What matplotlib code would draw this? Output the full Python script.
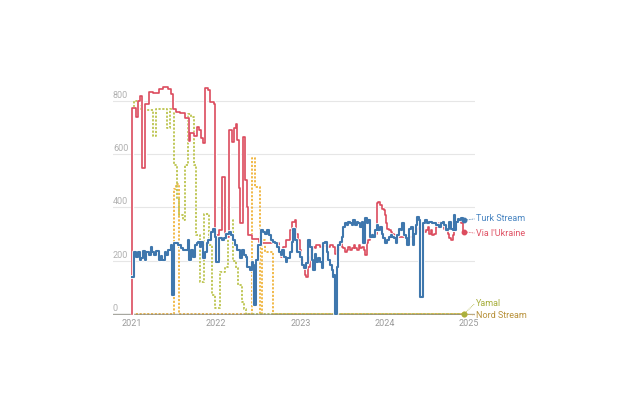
import matplotlib
matplotlib.use("Agg")
import matplotlib.pyplot as plt
import matplotlib.patheffects as pe
import matplotlib.transforms as mtransforms

plt.rcParams['font.family'] = ['Roboto', 'DejaVu Sans']

# --- DONNEES (dates en années décimales) ---
ukraine_dates = [2021.000, 2021.005, 2021.048, 2021.075, 2021.100, 2021.123, 2021.155, 2021.206, 2021.254,
                 2021.325, 2021.373, 2021.433, 2021.460, 2021.492, 2021.524, 2021.571, 2021.631, 2021.671,
                 2021.690, 2021.742, 2021.770, 2021.800, 2021.820, 2021.840, 2021.870, 2021.900, 2021.930,
                 2021.968, 2021.988, 2022.028, 2022.067, 2022.107, 2022.147, 2022.187, 2022.206, 2022.234,
                 2022.250, 2022.266, 2022.286, 2022.313, 2022.345, 2022.365, 2022.381, 2022.420, 2022.508,
                 2022.548, 2022.746, 2022.766, 2022.794, 2022.825, 2022.873, 2022.905, 2022.937, 2022.952,
                 2022.972, 2022.992, 2023.012, 2023.032, 2023.052, 2023.070, 2023.091, 2023.110, 2023.130,
                 2023.150, 2023.170, 2023.190, 2023.230, 2023.270, 2023.310, 2023.349, 2023.390, 2023.410,
                 2023.430, 2023.460, 2023.490, 2023.510, 2023.530, 2023.550, 2023.570, 2023.590, 2023.610,
                 2023.630, 2023.650, 2023.670, 2023.690, 2023.710, 2023.730, 2023.750, 2023.770, 2023.786,
                 2023.806, 2023.825, 2023.845, 2023.865, 2023.885, 2023.905, 2023.925, 2023.945, 2023.965,
                 2023.990, 2024.004, 2024.012, 2024.030, 2024.050, 2024.071, 2024.091, 2024.111, 2024.131,
                 2024.170, 2024.330, 2024.349, 2024.369, 2024.389, 2024.409, 2024.430, 2024.450, 2024.468,
                 2024.488, 2024.508, 2024.528, 2024.548, 2024.567, 2024.587, 2024.607, 2024.627, 2024.647,
                 2024.667, 2024.687, 2024.706, 2024.726, 2024.746, 2024.766, 2024.786, 2024.806, 2024.825,
                 2024.845, 2024.865, 2024.885, 2024.905, 2024.925, 2024.940]
ukraine_vals = [0, 775, 740, 800, 820, 547, 790, 834, 830,
                845, 852, 845, 825, 768, 760, 755, 737, 650,
                679, 670, 704, 690, 660, 641, 850, 840, 797,
                787, 295, 315, 515, 290, 690, 646, 700, 712,
                652, 475, 340, 665, 502, 400, 296, 280, 271,
                265, 234, 215, 252, 277, 315, 346, 352, 300,
                277, 240, 202, 177, 146, 140, 177, 215, 240,
                252, 246, 259, 252, 255, 252, 259, 250, 227,
                240, 265, 252, 246, 234, 240, 252, 240, 246,
                259, 246, 240, 259, 246, 252, 240, 221, 265,
                277, 290, 302, 290, 302, 415, 421, 409, 396,
                390, 371, 340, 321, 315, 309, 302, 296, 292,
                290, 302, 315, 309, 321, 327, 340, 327, 309,
                315, 327, 302, 315, 296, 302, 327, 327, 340,
                346, 334, 321, 315, 302, 284, 277, 296, 327,
                346, 355, 352, 340, 309, 309]

turk_dates = [2021.000, 2021.024, 2021.052, 2021.071, 2021.091, 2021.111, 2021.131, 2021.150, 2021.170,
              2021.198, 2021.222, 2021.238, 2021.262, 2021.290, 2021.317, 2021.341, 2021.357, 2021.389,
              2021.409, 2021.429, 2021.460, 2021.480, 2021.500, 2021.548, 2021.579, 2021.607, 2021.659,
              2021.679, 2021.706, 2021.726, 2021.746, 2021.766, 2021.786, 2021.806, 2021.825, 2021.845,
              2021.865, 2021.885, 2021.905, 2021.937, 2021.964, 2021.984, 2022.000, 2022.032, 2022.063,
              2022.091, 2022.119, 2022.151, 2022.171, 2022.198, 2022.222, 2022.250, 2022.278, 2022.310,
              2022.330, 2022.349, 2022.369, 2022.397, 2022.421, 2022.437, 2022.448, 2022.475, 2022.500,
              2022.528, 2022.556, 2022.579, 2022.607, 2022.627, 2022.647, 2022.675, 2022.698, 2022.726,
              2022.746, 2022.766, 2022.786, 2022.806, 2022.825, 2022.845, 2022.873, 2022.897, 2022.913,
              2022.937, 2022.964, 2022.992, 2023.020, 2023.040, 2023.063, 2023.091, 2023.111, 2023.131,
              2023.150, 2023.170, 2023.190, 2023.210, 2023.230, 2023.250, 2023.270, 2023.290, 2023.310,
              2023.330, 2023.349, 2023.369, 2023.381, 2023.397, 2023.409, 2023.437, 2023.448, 2023.468,
              2023.488, 2023.508, 2023.528, 2023.548, 2023.567, 2023.587, 2023.607, 2023.627, 2023.647,
              2023.667, 2023.687, 2023.706, 2023.726, 2023.746, 2023.766, 2023.786, 2023.806, 2023.825,
              2023.845, 2023.865, 2023.885, 2023.905, 2023.925, 2023.944, 2023.964, 2023.984, 2024.004,
              2024.032, 2024.052, 2024.071, 2024.091, 2024.111, 2024.131, 2024.150, 2024.170, 2024.190,
              2024.210, 2024.230, 2024.250, 2024.270, 2024.290, 2024.310, 2024.330, 2024.349, 2024.369,
              2024.389, 2024.409, 2024.421, 2024.452, 2024.480, 2024.500, 2024.528, 2024.567, 2024.607,
              2024.647, 2024.667, 2024.687, 2024.706, 2024.726, 2024.746, 2024.766, 2024.786, 2024.806,
              2024.817, 2024.833, 2024.849, 2024.865, 2024.885, 2024.905, 2024.925, 2024.940]
turk_vals = [140, 234, 215, 234, 202, 212, 237, 202, 234,
             222, 252, 234, 222, 237, 202, 217, 202, 234,
             222, 240, 259, 71, 265, 259, 246, 240, 277,
             202, 240, 215, 259, 265, 271, 252, 271, 209,
             234, 265, 277, 309, 321, 290, 196, 284, 277,
             284, 302, 309, 296, 277, 259, 240, 209, 240,
             222, 215, 177, 165, 196, 184, 34, 202, 259,
             315, 309, 302, 315, 296, 277, 271, 265, 252,
             234, 222, 240, 215, 196, 209, 234, 271, 321,
             277, 234, 215, 184, 171, 190, 277, 252, 202,
             165, 227, 196, 209, 196, 171, 265, 271, 234,
             202, 184, 165, 140, 146, 0, 177, 259, 271,
             290, 327, 340, 334, 346, 340, 334, 352, 334,
             346, 340, 327, 346, 265, 359, 340, 352, 290,
             296, 290, 315, 334, 315, 327, 302, 284, 265,
             277, 290, 296, 290, 284, 265, 296, 321, 315,
             340, 296, 284, 259, 321, 327, 259, 302, 334,
             365, 352, 65, 340, 352, 340, 346, 340, 334,
             327, 340, 346, 334, 315, 321, 346, 321, 315,
             371, 315, 346, 355, 352, 359, 352, 352]

yamal_dates = [2021.000, 2021.020, 2021.070, 2021.100, 2021.130, 2021.160, 2021.250, 2021.280, 2021.420,
               2021.450, 2021.500, 2021.530, 2021.560, 2021.600, 2021.630, 2021.660, 2021.700, 2021.740,
               2021.760, 2021.810, 2021.850, 2021.910, 2021.950, 2021.980, 2022.050, 2022.100, 2022.140,
               2022.160, 2022.200, 2022.230, 2022.260, 2022.300, 2022.330, 2022.350, 2024.940]
yamal_vals = [770, 800, 780, 765, 690, 765, 668, 768, 700,
              768, 560, 430, 371, 352, 560, 750, 740, 560,
              296, 121, 377, 259, 70, 21, 159, 175, 296,
              352, 200, 171, 110, 46, 20, 0, 0]

nord_dates = [2021.000, 2021.500, 2021.520, 2021.560, 2022.420, 2022.460, 2022.520, 2022.545, 2022.580,
              2022.670, 2024.940]
nord_vals = [0, 470, 490, 0, 584, 477, 0, 277, 234,
             0, 0]

year_ticks = [2021, 2022, 2023, 2024, 2025]
y_ticks = [0, 200, 400, 600, 800]

RED = '#dc4c5e'
BLUE = '#3f77ad'
OLIVE = '#bcc44e'
GOLD = '#f0b43c'

fig = plt.figure(figsize=(6.24, 4.16), dpi=100)
ax = fig.add_axes([0.181, 0.2433, 0.580, 0.5524])
ax.set_xlim(2020.774, 2025.07)
ax.set_ylim(-3, 860)

# grille horizontale + étiquettes juste au-dessus des lignes
lab_tr = mtransforms.blended_transform_factory(ax.transAxes, ax.transData)
for v in y_ticks:
    if v > 0:
        ax.axhline(v, color='#e6e6e6', lw=0.8, zorder=0)
    ax.text(0.0, v + 4, str(v), transform=lab_tr, fontsize=6.5, color='#b0b0b0', ha='left', va='bottom')

for yr in year_ticks:
    ax.text(yr, -20, str(yr), fontsize=6.5, color='#9a9a9a', ha='center', va='top')

halo = lambda w: [pe.Stroke(linewidth=w + 1.2, foreground='white'), pe.Normal()]

# séries en pointillés
ax.step(nord_dates, nord_vals, where='post', color=GOLD, lw=1.3, dashes=(1.2, 0.9), zorder=2, clip_on=False)
ax.step(yamal_dates, yamal_vals, where='post', color=OLIVE, lw=1.3, dashes=(1.2, 0.9), zorder=2, clip_on=False)

# ligne de base par-dessus (grise, légèrement transparente)
ax.axhline(0, color='#8a8a80', lw=1.0, alpha=0.75, zorder=2.5)

# séries pleines
ax.step(ukraine_dates, ukraine_vals, where='post', color=RED, lw=1.2, zorder=3, path_effects=halo(1.2))
ax.step(turk_dates, turk_vals, where='post', color=BLUE, lw=1.5, zorder=4, path_effects=halo(1.5))

# points finaux + étiquettes
end_x = turk_dates[-1]
lab_x = 2025.085
labels = [
    ("Turk Stream", turk_vals[-1], 357, BLUE, '#4a86c2'),
    ("Via l'Ukraine", ukraine_vals[-1], 304, RED, '#e05466'),
    ("Nord Stream", nord_vals[-1], -4, GOLD, '#b8913a'),
    ("Yamal", yamal_vals[-1], 38, '#aab03e', '#a7ae3c'),
]
for name, yv, ylab, col, tcol in labels:
    ax.plot(end_x, yv, 'o', color=col, markersize=3.2, zorder=5, clip_on=False)
    ax.plot([end_x, lab_x - 0.02], [yv, ylab], color=col, lw=0.6, ls=(0, (1, 1)), zorder=5, clip_on=False)
    ax.text(lab_x, ylab, name, fontsize=6.5, color=tcol, ha='left', va='center')

for s in ax.spines.values():
    s.set_visible(False)
ax.set_xticks([])
ax.set_yticks([])

fig.savefig('out.png', dpi=100, facecolor='white')
